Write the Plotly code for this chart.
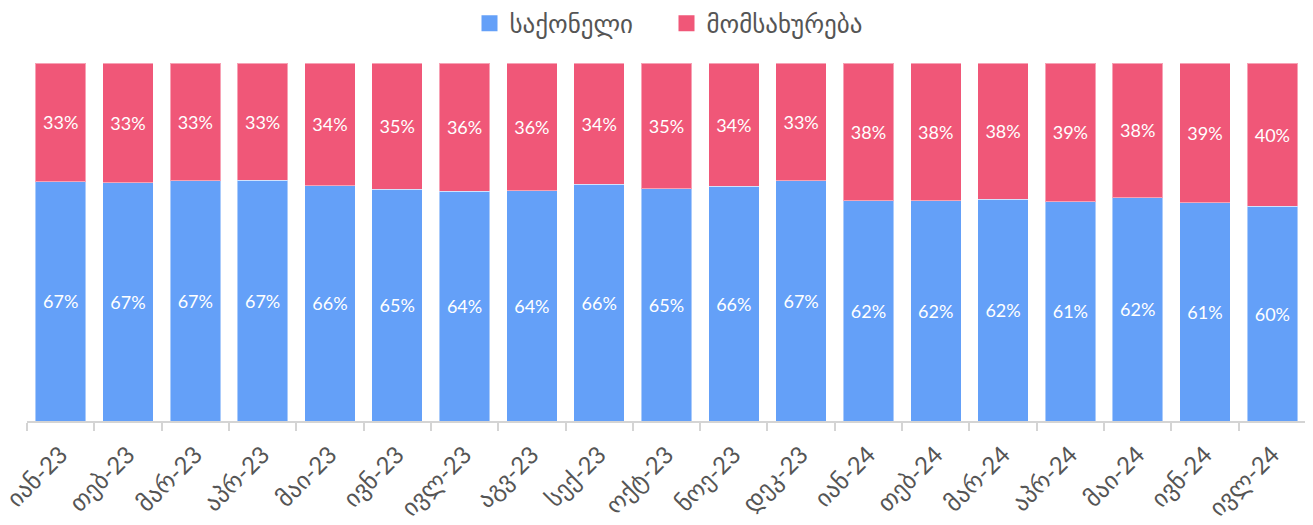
import plotly.graph_objects as go

categories = ["იან-23", "თებ-23", "მარ-23", "აპრ-23", "მაი-23", "ივნ-23", "ივლ-23",
              "აგვ-23", "სექ-23", "ოქტ-23", "ნოე-23", "დეკ-23", "იან-24", "თებ-24",
              "მარ-24", "აპრ-24", "მაი-24", "ივნ-24", "ივლ-24"]
goods = [66.8, 66.6, 67.1, 67.2, 65.7, 64.8, 64.2, 64.3, 66.1, 64.9, 65.6, 67.1,
         61.5, 61.5, 62.0, 61.3, 62.3, 60.9, 60.0]
services = [33.2, 33.4, 32.9, 32.8, 34.3, 35.2, 35.8, 35.7, 33.9, 35.1, 34.4, 32.9,
            38.5, 38.5, 38.0, 38.7, 37.7, 39.1, 40.0]

FONT = "Lato, DejaVu Sans, sans-serif"
fig = go.Figure()
series = [("საქონელი", goods, "#64A0F8"), ("მომსახურება", services, "#F05778")]
for name, vals, col in series:
    fig.add_trace(go.Bar(
        x=categories, y=vals, name=name, showlegend=False, legendgroup=name,
        marker=dict(color=col, line=dict(color="rgba(255,255,255,0.45)", width=1)),
        text=[f"{v:.0f}%" for v in vals], textposition="inside",
        insidetextanchor="middle", textangle=0,
        textfont=dict(color="white", size=18, family=FONT),
        hoverinfo="skip",
    ))
# legend entries with larger square swatches
for name, vals, col in series:
    fig.add_trace(go.Scatter(
        x=[None], y=[None], mode="markers", name=name, legendgroup=name,
        marker=dict(symbol="square", size=16, color=col), hoverinfo="skip",
    ))

# page body has an 8px margin, so the figure is offset by 8px right and down
fig.update_layout(
    barmode="stack", bargap=0.25,
    width=1305, height=517,
    margin=dict(l=19, r=7, t=55, b=104, autoexpand=False),
    plot_bgcolor="white", paper_bgcolor="white",
    font=dict(family=FONT, color="#555555"),
    legend=dict(orientation="h", x=0.5, xanchor="center", y=1.11, yanchor="middle",
                font=dict(size=25, color="#555555"), itemwidth=30,
                entrywidth=152, traceorder="normal"),
    xaxis=dict(showline=True, linecolor="#d4d4d4", linewidth=2, ticks="outside",
               tickson="boundaries", ticklen=8, tickcolor="#d4d4d4", tickwidth=2,
               tickangle=-45, tickfont=dict(size=24, color="#555555"),
               ticklabelstandoff=8,
               showgrid=False, automargin=False),
    yaxis=dict(range=[0, 100], visible=False, showgrid=False, automargin=False),
    uniformtext=dict(minsize=10, mode="show"),
)
fig.write_html("out.html")
